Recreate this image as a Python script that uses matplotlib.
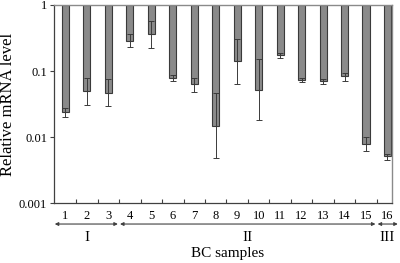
import matplotlib
matplotlib.use("Agg")
import matplotlib.pyplot as plt
import numpy as np

samples = [str(i) for i in range(1, 17)]
values = [0.024, 0.050, 0.046, 0.285, 0.36, 0.078, 0.063, 0.0147,
          0.14, 0.051, 0.175, 0.073, 0.070, 0.084, 0.0078, 0.0051]
err_upper = [0.028, 0.078, 0.076, 0.36, 0.57, 0.087, 0.078, 0.046,
             0.31, 0.15, 0.19, 0.078, 0.075, 0.093, 0.010, 0.0055]
err_lower = [0.020, 0.031, 0.029, 0.23, 0.22, 0.070, 0.048, 0.0048,
             0.063, 0.018, 0.157, 0.068, 0.063, 0.070, 0.0061, 0.0045]
groups = ["I", "II", "III"]
group_ranges = [(1, 3), (4, 15), (16, 16)]
y_ticks = [0.001, 0.01, 0.1, 1]
y_tick_labels = ["0.001", "0.01", "0.1", "1"]

plt.rcParams['font.family'] = ['Liberation Serif', 'DejaVu Serif']

fig = plt.figure(figsize=(4.0, 2.63), dpi=100)
ax = fig.add_axes([0.135, 0.228, 0.845, 0.753])

x = np.arange(1, len(samples) + 1)
vals = np.array(values)
top = np.ones_like(vals)
ax.bar(x, vals - top, bottom=top, width=0.33, color='#8a8a8a',
       edgecolor='#3a3a3a', linewidth=0.8, zorder=2)
yerr = np.array([vals - np.array(err_lower), np.array(err_upper) - vals])
ax.errorbar(x, vals, yerr=yerr, fmt='none', ecolor='#3a3a3a',
            elinewidth=0.7, capsize=2.0, capthick=0.7, zorder=3)

ax.set_yscale('log')
ax.set_ylim(0.001, 1)
ax.set_xlim(0.465, 16.21)
ax.set_yticks(y_ticks)
ax.set_yticklabels(y_tick_labels, fontsize=9)
ax.yaxis.set_minor_locator(matplotlib.ticker.NullLocator())
ax.tick_params(axis='y', length=3, width=0.8, color='#404040', pad=2)

ax.set_xticks(x)
ax.set_xticklabels(samples, fontsize=9)
ax.tick_params(axis='x', which='major', length=0, pad=5)
ax.set_xticks(np.arange(1.5, 16, 1), minor=True)
ax.tick_params(axis='x', which='minor', direction='in', length=3,
               width=0.8, color='#404040')

for s in ['left', 'bottom']:
    ax.spines[s].set_color('#404040')
    ax.spines[s].set_linewidth(0.9)
for s in ['top', 'right']:
    ax.spines[s].set_color('#8a8a8a')
    ax.spines[s].set_linewidth(1.0)

fig.text(8 / 400, 1 - 104 / 263, "Relative mRNA level", rotation=90,
         ha='center', va='center', fontsize=12)

trans = matplotlib.transforms.blended_transform_factory(ax.transData, ax.transAxes)
arrow_y = -0.106
label_y = -0.172
for name, (a, b) in zip(groups, group_ranges):
    x0 = 0.5 if a == 1 else a - 0.46
    x1 = b + 0.44 if b < 16 else b + 0.48
    ax.annotate("", xy=(x0, arrow_y), xytext=(x1, arrow_y),
                xycoords=trans, textcoords=trans, annotation_clip=False,
                arrowprops=dict(arrowstyle='<|-|>', color='#404040', lw=0.8,
                                mutation_scale=5, shrinkA=0, shrinkB=0))
    ax.text((a + b) / 2, label_y, name, transform=trans, ha='center',
            va='center', fontsize=11)

fig.text(0.570, 1 - 254 / 263, "BC samples", ha='center', va='center', fontsize=11)

fig.savefig("out.png", dpi=100)
